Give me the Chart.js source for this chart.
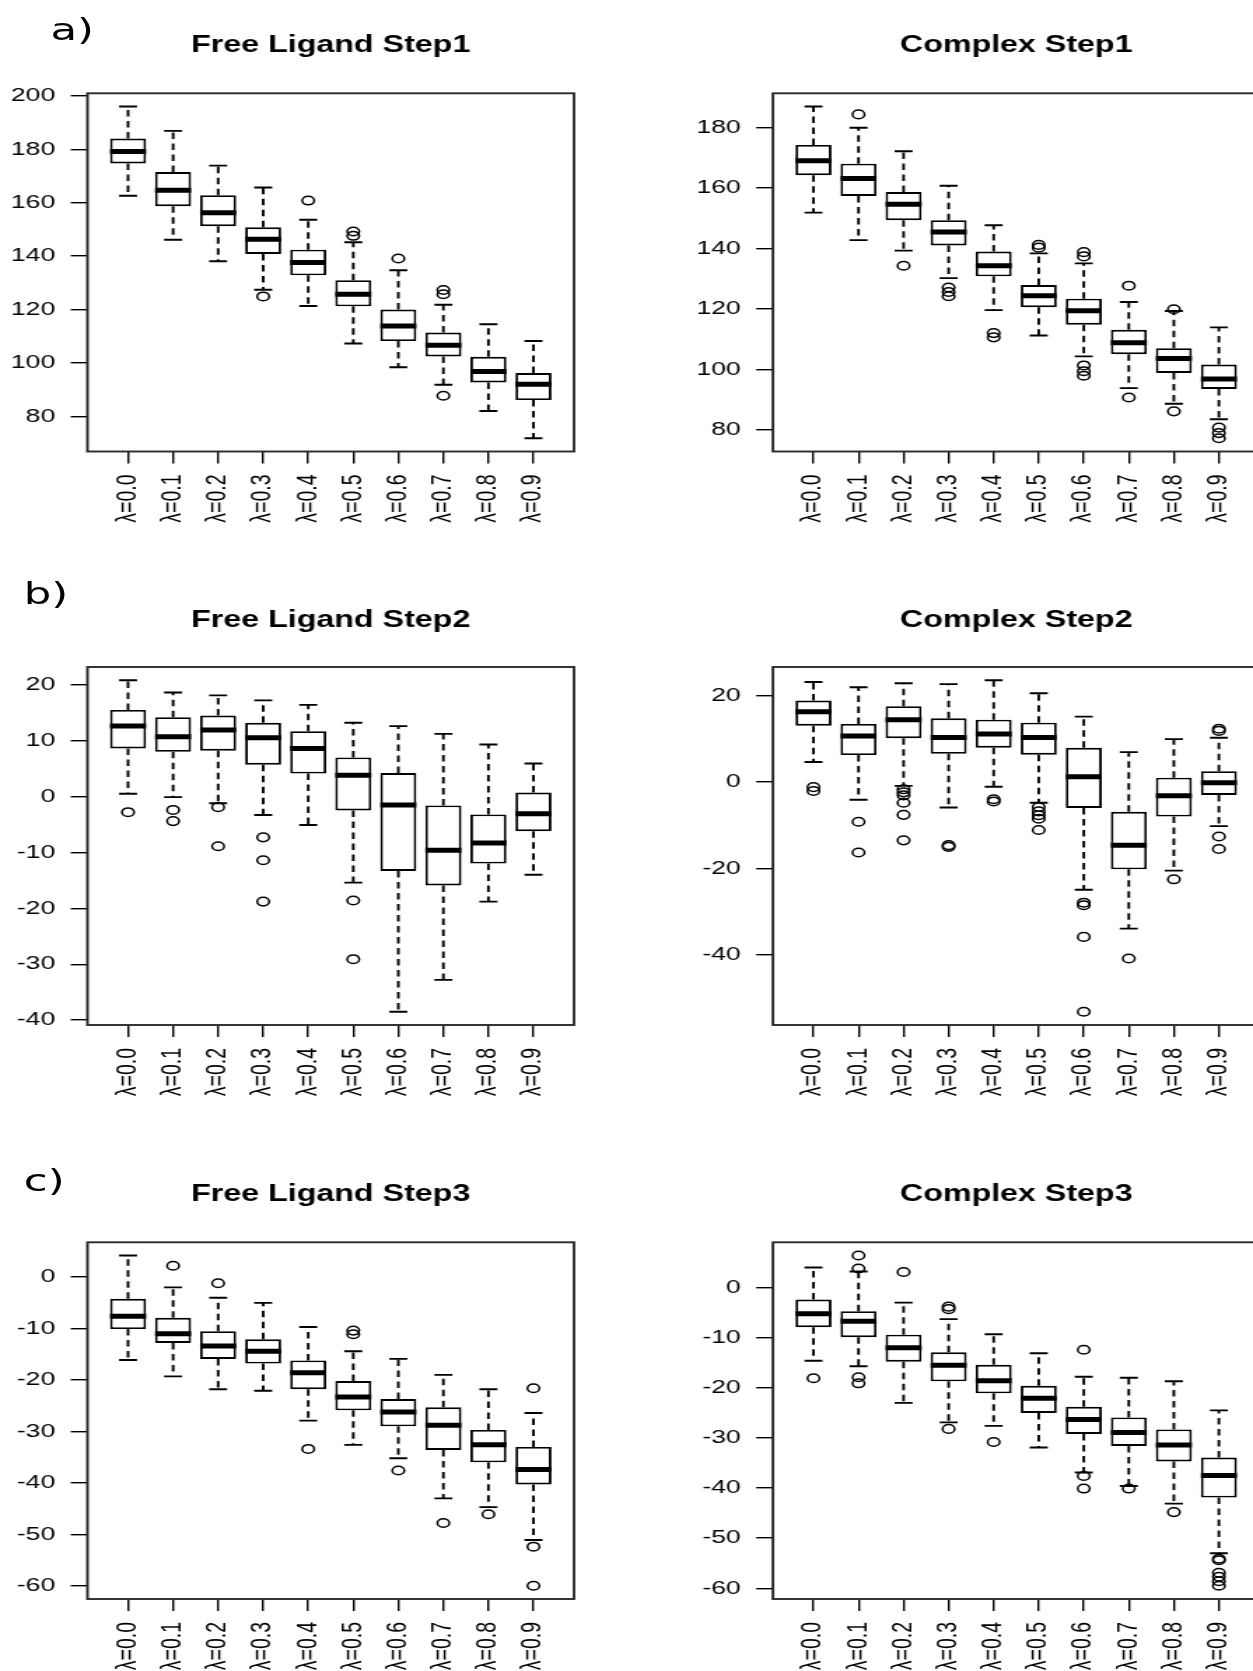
<!DOCTYPE html>
<html><head><meta charset="utf-8">
<script src="https://cdn.jsdelivr.net/npm/chart.js@4.4.1/dist/chart.umd.min.js"></script>
<style>
html,body{margin:0;padding:0;background:#fff;overflow:hidden;width:1253px;height:1671px;}
#wrap{position:absolute;left:0;top:0;width:895px;height:1671px;transform:scaleX(1.4);transform-origin:0 0;overflow:hidden;}
canvas{position:absolute;}
.lab{position:absolute;font-family:'DejaVu Sans';font-size:31px;line-height:31px;color:#000;white-space:nowrap;}
</style></head><body>
<div id="wrap">
  <div class="lab" style="left:36px;top:14px">a)</div>
  <div class="lab" style="left:17px;top:577.5px">b)</div>
  <div class="lab" style="left:17px;top:1164.5px">c)</div>
  <canvas id="p0"></canvas><canvas id="p1"></canvas>
  <canvas id="p2"></canvas><canvas id="p3"></canvas>
  <canvas id="p4"></canvas><canvas id="p5"></canvas>
</div>
<script>
// ---------------- DATA ----------------
const categories = ["λ=0.0","λ=0.1","λ=0.2","λ=0.3","λ=0.4","λ=0.5","λ=0.6","λ=0.7","λ=0.8","λ=0.9"];

// Free Ligand Step1
const fl1Lo  = [162.6,146.1,138.1,127.4,121.3,107.3,98.4,91.8,82.0,71.8];
const fl1Q1  = [174.7,158.7,151.2,140.8,132.8,121.2,108.2,102.4,92.7,86.1];
const fl1Med = [179.2,164.7,156.2,146.3,137.6,125.7,113.8,106.6,96.8,92.0];
const fl1Q3  = [184.0,171.5,162.8,150.8,142.4,131.0,120.0,111.4,102.3,96.2];
const fl1Hi  = [196.0,186.9,173.9,165.7,153.6,145.2,134.7,121.8,114.5,108.2];
const fl1Out = [[],[],[],[124.9],[160.8],[149.2,147.6],[139.1],[127.3,125.7,87.7],[],[]];
const fl1YTicks = [80,100,120,140,160,180,200];

// Complex Step1
const cx1Lo  = [151.9,142.8,139.3,130.2,119.6,111.2,104.3,93.8,88.6,83.5];
const cx1Q1  = [164.3,157.4,149.4,141.0,130.8,120.6,114.8,105.0,98.8,93.5];
const cx1Med = [169.1,163.2,154.7,145.5,134.3,124.4,119.4,108.8,103.6,96.8];
const cx1Q3  = [174.3,168.1,158.7,149.4,139.0,127.9,123.4,113.1,107.0,101.6];
const cx1Hi  = [187.0,180.0,172.2,160.8,147.7,138.4,135.1,122.3,119.3,113.9];
const cx1Out = [[],[184.4],[134.3],[127.1,125.6,124.2],[112.0,110.6],[141.2,140.3],[138.8,137.4,101.3,99.4,97.9],[127.7,90.7],[119.9,86.1],[80.7,78.9,77.2]];
const cx1YTicks = [80,100,120,140,160,180];

// Free Ligand Step2
const fl2Lo  = [0.5,-0.1,-1.2,-3.3,-5.1,-15.4,-38.5,-32.8,-18.8,-14.0];
const fl2Q1  = [8.6,8.0,8.2,5.7,4.1,-2.5,-13.3,-15.9,-12.0,-6.2];
const fl2Med = [12.6,10.7,11.9,10.5,8.6,3.8,-1.5,-9.6,-8.3,-3.1];
const fl2Q3  = [15.5,14.2,14.5,13.2,11.7,7.0,4.2,-1.6,-3.2,0.7];
const fl2Hi  = [20.8,18.6,18.1,17.2,16.4,13.2,12.6,11.2,9.3,5.9];
const fl2Out = [[-2.8],[-2.4,-4.4],[-1.9,-8.9],[-7.3,-11.4,-18.8],[],[-18.6,-29.1],[],[],[],[]];
const fl2YTicks = [-40,-30,-20,-10,0,10,20];

// Complex Step2
const cx2Lo  = [4.6,-4.1,-0.9,-5.9,-1.1,-4.8,-24.9,-33.9,-20.5,-10.2];
const cx2Q1  = [13.0,6.2,10.1,6.5,7.9,6.3,-6.0,-20.2,-8.0,-3.0];
const cx2Med = [16.2,10.6,14.4,10.3,11.1,10.3,1.2,-14.6,-3.2,-0.2];
const cx2Q3  = [18.8,13.4,17.5,14.7,14.4,13.7,7.9,-6.9,1.0,2.5];
const cx2Hi  = [23.1,21.9,22.8,22.6,23.5,20.5,15.1,6.9,9.9,10.2];
const cx2Out = [[-1.2,-2.1],[-9.2,-16.3],[-1.7,-2.4,-3.1,-4.8,-7.6,-13.5],[-14.6,-15.0],[-4.0,-4.5],[-5.8,-6.8,-7.7,-8.5,-11.1],[-27.9,-28.5,-35.8,-53.1],[-40.8],[-22.5],[12.3,11.8,-12.6,-15.5]];
const cx2YTicks = [-40,-20,0,20];

// Free Ligand Step3
const fl3Lo  = [-16.1,-19.3,-21.8,-22.1,-27.9,-32.6,-35.2,-43.0,-44.7,-51.1];
const fl3Q1  = [-10.1,-12.8,-15.9,-16.8,-21.8,-25.9,-29.0,-33.6,-36.0,-40.3];
const fl3Med = [-7.6,-11.0,-13.4,-14.4,-18.6,-23.3,-26.2,-28.8,-32.6,-37.4];
const fl3Q3  = [-4.2,-7.9,-10.5,-12.1,-16.2,-20.2,-23.7,-25.3,-29.7,-33.0];
const fl3Hi  = [4.2,-2.0,-4.0,-5.0,-9.7,-14.4,-15.9,-19.0,-21.8,-26.4];
const fl3Out = [[],[2.2],[-1.2],[],[-33.4],[-10.4,-11.1],[-37.6],[-47.8],[-46.1],[-21.6,-52.4,-60.0]];
const fl3YTicks = [-60,-50,-40,-30,-20,-10,0];

// Complex Step3
const cx3Lo  = [-14.6,-15.7,-23.0,-26.9,-27.6,-31.9,-36.9,-39.6,-43.1,-53.0];
const cx3Q1  = [-7.9,-9.9,-14.8,-18.7,-21.1,-25.0,-29.2,-31.6,-34.7,-41.9];
const cx3Med = [-5.2,-6.7,-12.0,-15.5,-18.6,-22.1,-26.3,-28.9,-31.4,-37.5];
const cx3Q3  = [-2.4,-4.7,-9.4,-12.9,-15.4,-19.6,-23.8,-25.9,-28.3,-33.9];
const cx3Hi  = [4.0,3.2,-3.0,-6.3,-9.3,-13.1,-17.8,-18.0,-18.7,-24.5];
const cx3Out = [[-18.1],[6.4,3.8,-17.9,-19.1],[3.1],[-3.8,-4.3,-28.2],[-30.8],[],[-12.4,-37.6,-40.1],[-40.1],[-44.8],[-54.1,-54.4,-56.9,-57.7,-58.6,-59.5]];
const cx3YTicks = [-60,-50,-40,-30,-20,-10,0];

const panels = [
  {id:'p0', col:0, row:0, title:'Free Ligand Step1', lo:fl1Lo, q1:fl1Q1, med:fl1Med, q3:fl1Q3, hi:fl1Hi, out:fl1Out, yTicks:fl1YTicks},
  {id:'p1', col:1, row:0, title:'Complex Step1',     lo:cx1Lo, q1:cx1Q1, med:cx1Med, q3:cx1Q3, hi:cx1Hi, out:cx1Out, yTicks:cx1YTicks},
  {id:'p2', col:0, row:1, title:'Free Ligand Step2', lo:fl2Lo, q1:fl2Q1, med:fl2Med, q3:fl2Q3, hi:fl2Hi, out:fl2Out, yTicks:fl2YTicks},
  {id:'p3', col:1, row:1, title:'Complex Step2',     lo:cx2Lo, q1:cx2Q1, med:cx2Med, q3:cx2Q3, hi:cx2Hi, out:cx2Out, yTicks:cx2YTicks},
  {id:'p4', col:0, row:2, title:'Free Ligand Step3', lo:fl3Lo, q1:fl3Q1, med:fl3Med, q3:fl3Q3, hi:fl3Hi, out:fl3Out, yTicks:fl3YTicks},
  {id:'p5', col:1, row:2, title:'Complex Step3',     lo:cx3Lo, q1:cx3Q1, med:cx3Med, q3:cx3Q3, hi:cx3Hi, out:cx3Out, yTicks:cx3YTicks}
];

// ---------------- LAYOUT (unstretched css px) ----------------
const COL_LEFT = [0, 447], COL_W = [447, 470];
const PLOT_LEFT = [62.5, 552.1], PLOT_W = 347.5;
const ROW_TOP = [0, 560, 1120], ROW_H = [560, 560, 551];
const ROW_TITLE_MID = [46.1, 620.4, 1194.4];
const ROW_PLOT_TOP = [93.3, 667, 1242.3];
const ROW_PLOT_BOTTOM = [451.5, 1025, 1599];
const Y_AXIS_W = 55, TICK_LEN = 12;
const TITLE_SIZE = 23, TITLE_LH = 1.2;
const BOX_WEX = 0.8, STAPLE_W = 0.4;

Chart.defaults.font.family = "'Liberation Sans', Arial, sans-serif";
Chart.defaults.color = '#000';

const framePlugin = {
  id: 'frame',
  afterDatasetsDraw(chart) {
    const {ctx, chartArea: a} = chart;
    ctx.save();
    ctx.strokeStyle = '#2a2a2a';
    ctx.lineWidth = 1.9;
    ctx.strokeRect(a.left, a.top, a.right - a.left, a.bottom - a.top);
    ctx.restore();
  }
};

function build(p) {
  const cvs = document.getElementById(p.id);
  const cl = COL_LEFT[p.col], cw = COL_W[p.col], ct = ROW_TOP[p.row], ch = ROW_H[p.row];
  cvs.width = cw; cvs.height = ch;
  Object.assign(cvs.style, {left: cl + 'px', top: ct + 'px', width: cw + 'px', height: ch + 'px'});

  const plotL = PLOT_LEFT[p.col] - cl;
  const plotR = PLOT_LEFT[p.col] + PLOT_W - cl;
  const titleHalf = TITLE_SIZE * TITLE_LH / 2;
  const padTop = ROW_TITLE_MID[p.row] - ct - titleHalf;
  const titlePadBottom = ROW_PLOT_TOP[p.row] - ROW_TITLE_MID[p.row] - titleHalf;
  const xAxisH = ct + ch - ROW_PLOT_BOTTOM[p.row];

  const n = categories.length;
  const xs = categories.map((c, i) => i + 1);
  const allVals = p.lo.concat(p.hi, p.out.flat());
  const dMin = Math.min(...allVals), dMax = Math.max(...allVals);
  const ext = 0.04 * (dMax - dMin);
  const xExt = 0.04 * n;

  const segs = (fn) => {
    const d = [];
    xs.forEach((x, i) => fn(x, i).forEach(s => { d.push(s[0], s[1], {x: s[1].x, y: null}); }));
    return d;
  };

  const boxes = xs.map((x, i) => ({x, y: [p.q1[i], p.q3[i]]}));
  const whiskers = segs((x, i) => [[{x, y: p.q3[i]}, {x, y: p.hi[i]}], [{x, y: p.q1[i]}, {x, y: p.lo[i]}]]);
  const caps = segs((x, i) => [
    [{x: x - STAPLE_W / 2, y: p.hi[i]}, {x: x + STAPLE_W / 2, y: p.hi[i]}],
    [{x: x - STAPLE_W / 2, y: p.lo[i]}, {x: x + STAPLE_W / 2, y: p.lo[i]}]]);
  const medians = segs((x, i) => [[{x: x - BOX_WEX / 2, y: p.med[i]}, {x: x + BOX_WEX / 2, y: p.med[i]}]]);
  const outliers = [];
  xs.forEach((x, i) => p.out[i].forEach(v => outliers.push({x, y: v})));

  const lineBase = {type: 'line', pointRadius: 0, fill: false, tension: 0, spanGaps: false, borderColor: '#000', borderCapStyle: 'butt'};

  new Chart(cvs, {
    type: 'bar',
    data: {
      datasets: [
        Object.assign({}, lineBase, {label: 'whiskers', data: whiskers, borderWidth: 1.9, borderDash: [6.5, 4.5], order: 5}),
        Object.assign({}, lineBase, {label: 'caps', data: caps, borderWidth: 1.9, order: 4}),
        {type: 'bar', label: 'boxes', data: boxes, backgroundColor: '#fff', borderColor: '#000', borderWidth: 1.9,
         borderSkipped: false, categoryPercentage: BOX_WEX, barPercentage: 1.0, order: 3},
        Object.assign({}, lineBase, {label: 'medians', data: medians, borderWidth: 5, order: 2}),
        {type: 'scatter', label: 'outliers', data: outliers, pointStyle: 'circle', pointRadius: 4.3,
         pointBorderWidth: 1.5, pointBorderColor: '#000', pointBackgroundColor: 'rgba(0,0,0,0)', order: 1}
      ]
    },
    options: {
      responsive: false,
      animation: false,
      devicePixelRatio: 1,
      events: [],
      layout: {padding: {left: plotL - Y_AXIS_W, right: cw - plotR, top: padTop, bottom: 0}},
      plugins: {
        legend: {display: false},
        tooltip: {enabled: false},
        title: {
          display: true, text: p.title, fullSize: false, color: '#000',
          font: {size: TITLE_SIZE, weight: 'bold', lineHeight: TITLE_LH},
          padding: {top: 0, bottom: titlePadBottom}
        }
      },
      scales: {
        x: {
          type: 'linear', min: 0.5 - xExt, max: n + 0.5 + xExt, offset: false,
          afterBuildTicks: s => { s.ticks = xs.map(v => ({value: v})); },
          afterFit: s => { s.height = xAxisH; },
          ticks: {autoSkip: false, minRotation: 90, maxRotation: 90, padding: 11, color: '#000',
                  font: {size: 19.5}, callback: v => categories[v - 1]},
          grid: {display: true, offset: false, drawOnChartArea: false, drawTicks: true, tickLength: TICK_LEN, color: '#000', lineWidth: 1.4},
          border: {display: false}
        },
        y: {
          type: 'linear', min: dMin - ext, max: dMax + ext,
          afterBuildTicks: s => { s.ticks = p.yTicks.map(v => ({value: v})); },
          afterFit: s => { s.width = Y_AXIS_W; },
          ticks: {padding: 11, color: '#000', font: {size: 19}, callback: v => String(v)},
          grid: {display: true, drawOnChartArea: false, drawTicks: true, tickLength: TICK_LEN, color: '#000', lineWidth: 1.4},
          border: {display: false}
        }
      }
    },
    plugins: [framePlugin]
  });
}
panels.forEach(build);
</script>
</body></html>
